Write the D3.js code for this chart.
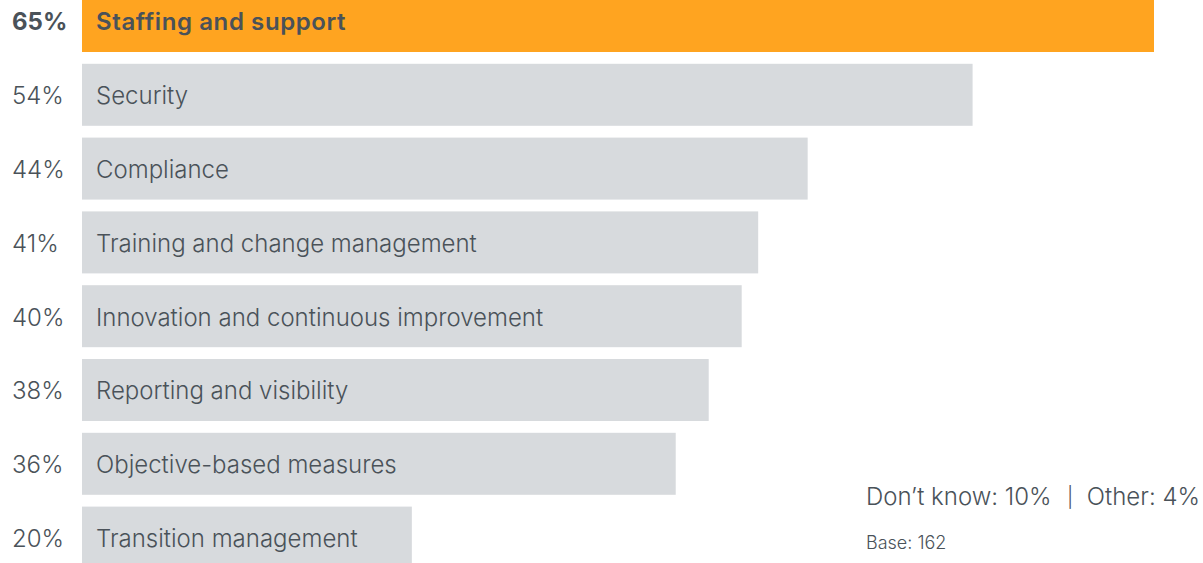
<!DOCTYPE html>
<html>
<head>
<meta charset="utf-8">
<script src="https://cdn.jsdelivr.net/npm/d3@7"></script>
<style>
  html, body { margin: 0; padding: 0; background: #ffffff; }
  svg { display: block; }
  text { font-family: Inter, "Noto Sans", sans-serif; }
</style>
</head>
<body>
<svg id="chart" width="1203" height="563"></svg>
<script>
// Survey responses: share of respondents naming each area
const categories = [
  "Staffing and support",
  "Security",
  "Compliance",
  "Training and change management",
  "Innovation and continuous improvement",
  "Reporting and visibility",
  "Objective-based measures",
  "Transition management"
];
const values = [65, 54, 44, 41, 40, 38, 36, 20];
const otherAnswers = ["Don\u2019t know: 10%", "|", "Other: 4%"];
const baseNote = "Base: 162";

const width = 1203, height = 563;
const svg = d3.select("#chart");

const textColor = "#4a5259";
const highlight = "#ffa420";
const muted = "#d7dadd";

const x = d3.scaleLinear().domain([0, 65]).range([82, 1154]);
const y = d3.scaleBand()
  .domain(categories)
  .range([-10, 568.6])
  .paddingInner(0.16)
  .paddingOuter(0);

const rows = svg.selectAll("g.row")
  .data(categories.map((c, i) => ({ cat: c, val: values[i], i })))
  .join("g")
  .attr("class", "row");

rows.append("rect")
  .attr("x", x(0))
  .attr("y", d => y(d.cat))
  .attr("width", d => x(d.val) - x(0))
  .attr("height", y.bandwidth())
  .attr("fill", d => d.i === 0 ? highlight : muted);

rows.append("text")
  .attr("x", 96)
  .attr("y", d => y(d.cat) + y.bandwidth() / 2 + 1)
  .attr("dy", "0.35em")
  .attr("font-size", 24)
  .attr("font-weight", d => d.i === 0 ? 600 : 300)
  .attr("letter-spacing", d => d.i === 0 ? 0.6 : 0)
  .attr("fill", textColor)
  .text(d => d.cat);

rows.append("text")
  .attr("x", 12)
  .attr("y", d => y(d.cat) + y.bandwidth() / 2 + 1)
  .attr("dy", "0.35em")
  .attr("font-size", 24)
  .attr("font-weight", d => d.i === 0 ? 700 : 300)
  .attr("fill", textColor)
  .text(d => d.val + "%");

const note = svg.append("g").attr("fill", textColor).attr("font-weight", 300);
note.append("text")
  .attr("x", 866).attr("y", 505).attr("font-size", 24)
  .text(otherAnswers[0]);
note.append("text")
  .attr("x", 1070).attr("y", 504).attr("font-size", 20)
  .attr("text-anchor", "middle")
  .text(otherAnswers[1]);
note.append("text")
  .attr("x", 1200).attr("y", 505).attr("font-size", 24)
  .attr("text-anchor", "end")
  .text(otherAnswers[2]);
note.append("text")
  .attr("x", 866).attr("y", 549).attr("font-size", 18)
  .text(baseNote);
</script>
</body>
</html>
